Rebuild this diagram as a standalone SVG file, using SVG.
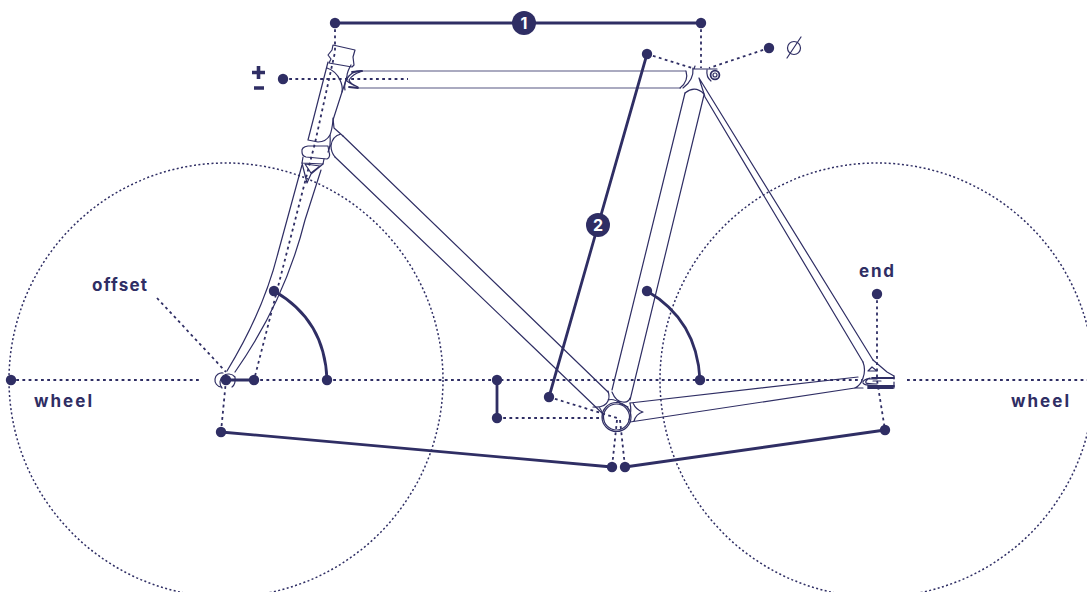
<svg xmlns="http://www.w3.org/2000/svg" width="1087" height="592" viewBox="0 0 1087 592">
<style>
.f{fill:none;stroke:#2f2e64;stroke-width:1.2;stroke-linejoin:round;stroke-linecap:round}
.t{fill:none;stroke:#8e8eac;stroke-width:1.7}
.h{fill:none;stroke:#2f2e64;stroke-width:1.8;stroke-linecap:round}
.d{fill:none;stroke:#2f2e64;stroke-width:1.8;stroke-dasharray:2.8 3.4}
.w{fill:none;stroke:#2f2e64;stroke-width:1.5;stroke-dasharray:2 2.4}
.s{fill:none;stroke:#2f2e64;stroke-width:2.8;stroke-linecap:round}
.b{fill:none;stroke:#2f2e64;stroke-width:3.6}
.p{fill:#2f2e64}
.l{font-family:"Inter","Liberation Sans",sans-serif;font-weight:700;font-size:17px;fill:#2f2e64}
.n{font-family:"Inter","Liberation Sans",sans-serif;font-weight:700;font-size:16px;fill:#fff;text-anchor:middle}
</style>
<g id="wheels">
<circle class="w" cx="226" cy="380" r="217"/>
<circle class="w" cx="877" cy="380" r="217"/>
</g>
<g id="frame">
<!-- top tube -->
<path class="t" d="M360 71H686M358 88H681"/>
<path class="h" d="M352 72L362 71M349 87L358 88"/>
<path class="f" d="M362 71Q352 70 346 80Q350 84 358 87M360 72Q353 74 349 80Q350 84 358 87M346 80Q344 86 345 90"/>
<!-- headset -->
<path class="f" d="M333 45L355 50L353 57L354 65L352 67L329 63L331 59L328 55L332 50Z"/>
<!-- head tube -->
<path class="f" d="M328 62L308 140M351 65Q347 72 347 76Q345 84 342 92L333 120Q332 130 330 135Q326 142 318 142L308 140"/>
<path class="f" d="M327 68Q336 71 340 80Q343 86 342 92"/>
<path class="f" d="M333 118L334 128L343 136M341 134Q332 136 331 146Q331 152 335 157M330 135Q331 146 328 152"/>
<!-- collar and crown -->
<path class="f" d="M308 146Q301 147 302 152Q302 156 306 157L327 159Q331 157 329 152L328 146L308 146Z"/>
<path class="f" d="M303 157L302 163L323 164L324 159"/>
<path class="f" d="M302 163L307 183L311 174L323 164M305 164L320 166L311 173Z"/>
<!-- fork blades -->
<path class="f" d="M302 165L278 253C270 285 255 325 227 371M321 170L305 220C295 260 275 315 235 372"/>
<!-- down tube -->
<path class="f" d="M343 136L608 392M335 157L602 413"/>
<!-- seat tube -->
<path class="f" d="M685 93L612 390M704 95L630 400"/>
<path class="f" d="M685 93Q695 85 704 94"/>
<path class="f" d="M693 68Q694 80 683 88M686 71Q689 81 680 88"/>
<path class="f" d="M693 69L707 69L717 69M695 66L694 69M707 70Q706 77 711 81"/>
<circle class="h" cx="715" cy="75" r="4.400"/>
<circle class="f" cx="715" cy="75" r="2"/>
<!-- seat stay -->
<path class="f" d="M699 78L873 360M699 78L705 97L863 362"/>
<!-- BB -->
<circle class="f" cx="616.500" cy="417" r="14.500"/>
<circle class="f" cx="616.500" cy="417" r="13" stroke-width=".9"/>
<path class="f" d="M593 407Q605 408 608 401Q610 397 608 391M599 407Q603 412 603 417M612 392Q616 402 623 402Q628 403 630 398M608 400Q614 398 621 404L628 407M630 403Q632 411 629 420"/>
<!-- chain stay -->
<path class="f" d="M630 403L858 377M630 422L855 388M633 403Q636 410 643 412Q636 414 634 421"/>
<!-- dropout -->
<path class="f" d="M863 362Q866 370 863 378Q861 385 855 388H863M873 360L887 372L894 376M868 371L872 367L877 371Z"/>
<path class="h" d="M872 378H894M868 386H894M868 388H893"/>
<path class="f" d="M894 376V379M894 382V388M870 378Q862 380 863 383Q864 385 868 385M868 379Q865 381 866 383Q867 384 877 384M868 379H877M873 381H881"/>
<!-- fork tip -->
<path class="f" d="M222 388A8 8 0 1 1 235 377M235 377Q236 384 232 387"/>
<path class="f" d="M221 387A6.500 6.500 0 0 1 223 373"/>
</g>
<g id="connectors">
<path class="d" d="M335 23V52L315 143L254 380M283 79H408M701 23V68M647 54L692 68M769 48L709 68M10 380H200M254 380H327M327 380H700M700 380H862M907 380H1087M157 298L226 372M226 380L221 432M549 397L617 418M497 418H604M617 420L612 467M620 420L625 467M877 294V380L885 430"/>
<path class="s" d="M335 23H701M647 54L549 397M226 380H254M274 291Q325 320 327 380M647 291Q697 320 700 380M497 380V418M221 432L612 467M625 467L885 430"/>
</g>
<g id="dots" class="p">
<circle cx="335" cy="23" r="5.200"/><circle cx="701" cy="23" r="5.200"/><circle cx="647" cy="54" r="5.200"/><circle cx="769" cy="48" r="5.200"/><circle cx="283" cy="79" r="5.200"/>
<circle cx="274" cy="291" r="5.200"/><circle cx="647" cy="291" r="5.200"/><circle cx="877" cy="294" r="5.200"/><circle cx="11" cy="380" r="5.200"/><circle cx="226" cy="380" r="5.200"/><circle cx="254" cy="380" r="5.200"/><circle cx="327" cy="380" r="5.200"/><circle cx="497" cy="380" r="5.200"/><circle cx="700" cy="380" r="5.200"/><circle cx="549" cy="397" r="5.200"/><circle cx="497" cy="418" r="5.200"/><circle cx="221" cy="432" r="5.200"/><circle cx="885" cy="430" r="5.200"/><circle cx="612" cy="467" r="5.200"/><circle cx="625" cy="467" r="5.200"/>
</g>
<g id="badge-1"><circle class="p" cx="524" cy="23" r="12"/><text class="n" x="524" y="29">1</text></g>
<g id="badge-2"><circle class="p" cx="598" cy="225" r="12"/><text class="n" x="598" y="231">2</text></g>
<g id="labels">
<text class="l" x="92" y="291" textLength="55">offset</text>
<text class="l" x="34" y="407" textLength="58">wheel</text>
<text class="l" x="1011" y="407" textLength="58">wheel</text>
<text class="l" x="859" y="277" textLength="35">end</text>
<path class="b" d="M252 72.500H265M258.500 66V79M254 88H264"/>
<circle class="f" cx="794" cy="48" r="6.500"/>
<path class="f" d="M787 58L801 37"/>
</g>
</svg>
